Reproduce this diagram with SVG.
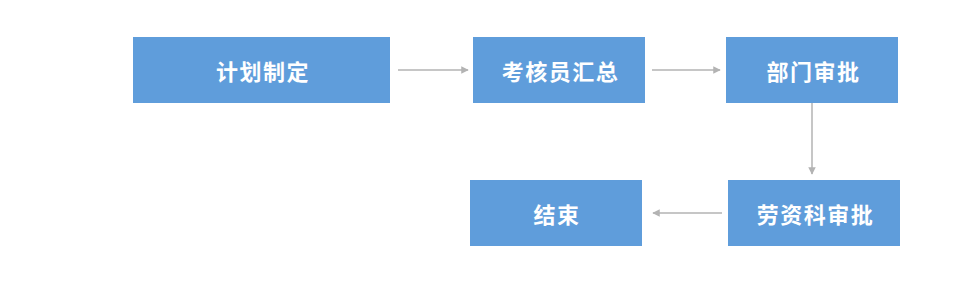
<svg xmlns="http://www.w3.org/2000/svg" width="970" height="281" viewBox="0 0 970 281">
<style>
.box{fill:#5f9ddb;}
.lbl{fill:#ffffff;font-family:"Noto Sans CJK SC","Liberation Sans",sans-serif;font-size:22px;font-weight:bold;letter-spacing:1.5px;text-anchor:middle;dominant-baseline:central;}
.edge{stroke:#b3b3b3;stroke-width:1.5;fill:none;marker-end:url(#ah);}
</style>
<defs>
<marker id="ah" viewBox="0 0 10 10" refX="9" refY="5" markerWidth="5" markerHeight="5" orient="auto" markerUnits="strokeWidth">
<path d="M0,0 L10,5 L0,10 z" fill="#b3b3b3"/>
</marker>
</defs>
<rect width="970" height="281" fill="#ffffff"/>
<g id="connectors">
<line class="edge" x1="398" y1="70" x2="468" y2="70"/>
<line class="edge" x1="652" y1="70" x2="720" y2="70"/>
<line class="edge" x1="812" y1="103" x2="812" y2="174"/>
<line class="edge" x1="722" y1="213" x2="653" y2="213"/>
</g>
<g id="n1"><rect class="box" x="133" y="37" width="257" height="66"/><text class="lbl" x="263" y="70">计划制定</text></g>
<g id="n2"><rect class="box" x="473" y="37" width="172" height="66"/><text class="lbl" x="560.5" y="70">考核员汇总</text></g>
<g id="n3"><rect class="box" x="726" y="37" width="172" height="66"/><text class="lbl" x="813.5" y="70">部门审批</text></g>
<g id="n4"><rect class="box" x="728" y="180" width="172" height="66"/><text class="lbl" x="815.5" y="213">劳资科审批</text></g>
<g id="n5"><rect class="box" x="470" y="180" width="172" height="66"/><text class="lbl" x="557" y="213">结束</text></g>
</svg>
